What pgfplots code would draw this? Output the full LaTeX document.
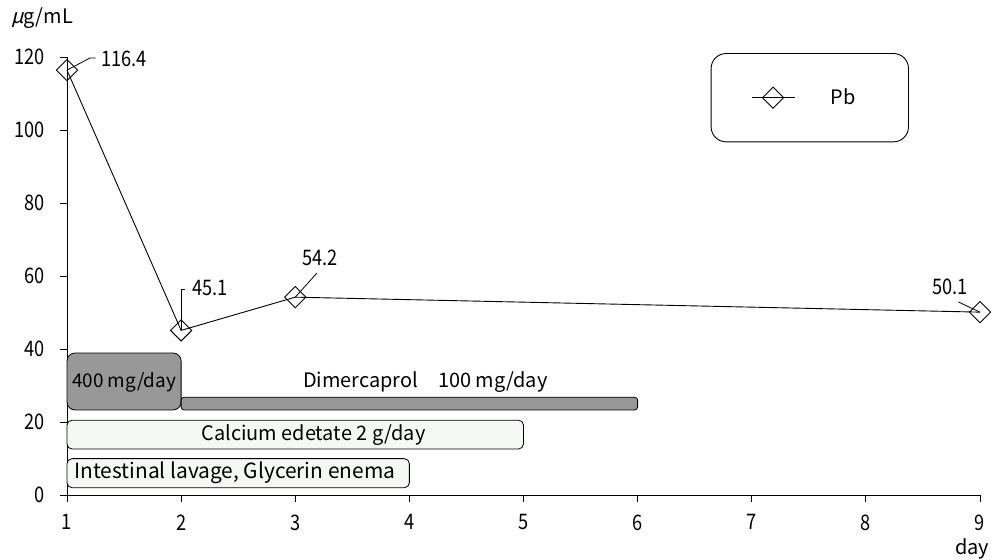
\documentclass[border=0pt]{standalone}
\usepackage{pgfplots}
\pgfplotsset{compat=1.18}
\usepackage{fontspec}
\setmainfont{Noto Sans CJK JP}
\newfontfamily\slfont{Noto Sans CJK JP}[FakeSlant=0.25]
\newfontfamily\numfont{Noto Sans CJK JP}[FakeStretch=0.85]
\definecolor{bargray}{RGB}{152,152,152}
\definecolor{barlight}{RGB}{246,248,246}
\newcommand{\lf}{\fontsize{20}{22}\selectfont}
\newcommand{\nf}{\numfont\fontsize{21.5}{23}\selectfont}
\begin{document}
\begin{tikzpicture}
\useasboundingbox (-67bp,-65bp) rectangle (928bp,495bp);
\begin{axis}[
  at={(0,0)}, anchor=south west,
  scale only axis, width=913bp, height=438bp,
  xmin=1, xmax=9, ymin=0, ymax=120,
  clip=false,
  axis x line=bottom, axis y line=left,
  axis line style={-, black, line width=0.9bp},
  xtick={1,...,9}, ytick={0,20,...,120},
  tick align=outside, major tick length=7bp,
  tick style={black, line width=0.9bp},
  /pgf/number format/assume math mode=true,
  ticklabel style={font=\nf},
  yticklabel style={xshift=-12bp},
  xticklabel style={yshift=-9bp},
  legend style={at={(0.705,1.009)}, anchor=north west, draw=black, line width=0.9bp,
    rounded corners=15bp, inner xsep=40bp, inner ysep=33.5bp, font=\lf},
  legend image code/.code={\path[draw=none] (0bp,0bp) -- (77bp,0bp);\draw[mark repeat=2,mark phase=2,#1] plot coordinates {(0bp,0bp)(21.5bp,0bp)(43bp,0bp)};},
]
\addplot[draw=black, fill=bargray, line width=0.8bp, rounded corners=8bp, forget plot]
  coordinates {(1.5,23.3)(2,23.3)(2,38.9)(1,38.9)(1,23.3)} -- cycle;
\addplot[draw=black, fill=bargray, line width=0.8bp, rounded corners=3bp, forget plot]
  coordinates {(4,23.3)(6,23.3)(6,26.8)(2,26.8)(2,23.3)} -- cycle;
\addplot[draw=black, fill=barlight, line width=0.8bp, rounded corners=5bp, forget plot]
  coordinates {(3,12.6)(5,12.6)(5,20.5)(1,20.5)(1,12.6)} -- cycle;
\addplot[draw=black, fill=barlight, line width=0.8bp, rounded corners=5bp, forget plot]
  coordinates {(2.5,2.0)(4,2.0)(4,9.96)(1,9.96)(1,2.0)} -- cycle;
\addplot[black, line width=0.9bp, mark=square, mark size=7.5bp,
  mark options={rotate=45, fill=white, solid}]
  coordinates {(1,116.4)(2,45.1)(3,54.2)(9,50.1)};
\addlegendentry{Pb\hbox to 11bp{}}
% leaders
\draw[line width=0.8bp] (axis cs:1,116.4) -- (axis cs:1.2,119.7) -- (axis cs:1.25,119.7);
\draw[line width=0.8bp] (axis cs:2,45.1) -- (axis cs:2,56.4) -- (axis cs:2.03,56.4);
\draw[line width=0.8bp] (axis cs:3,54.2) -- (axis cs:3.19,60.8);
\draw[line width=0.8bp] (axis cs:9,50.1) -- (axis cs:8.81,52.9);
\node[anchor=west, font=\nf] at (axis cs:1.27,119.4) {116.4};
\node[anchor=west, font=\nf] at (axis cs:2.07,56.7) {45.1};
\node[font=\nf] at (axis cs:3.22,64.9) {54.2};
\node[font=\nf] at (axis cs:8.74,57.0) {50.1};
\node[font=\fontsize{19}{21}\selectfont] at (axis cs:1.5,31) {400 mg/day};
\node[font=\lf] at (axis cs:4.14,31) {Dimercaprol\hspace{1em}100 mg/day};
\node[font=\lf] at (axis cs:3.16,16.5) {Calcium edetate 2 g/day};
\node[font=\fontsize{21}{23}\selectfont] at (axis cs:2.47,6) {Intestinal lavage, Glycerin enema};
\end{axis}
\node[font=\lf] at (-25bp,477bp) {{\slfont μ}g/mL};
\node[font=\lf] at (905bp,-54bp) {day};
\end{tikzpicture}
\end{document}
